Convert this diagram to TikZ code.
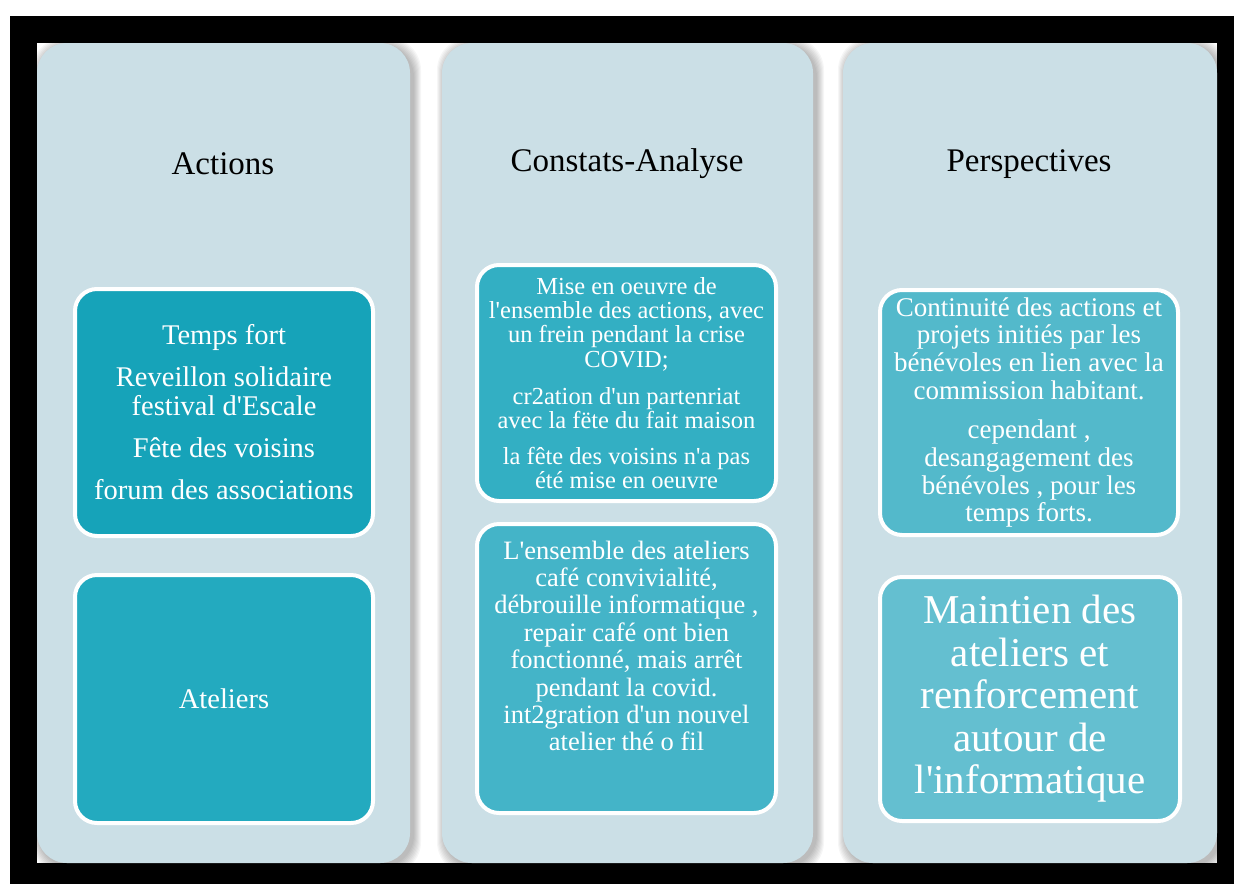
\documentclass[tikz,border=0pt]{standalone}
\usepackage{fontspec}
\setmainfont{Liberation Serif}[Ligatures=TeXOff]
\usetikzlibrary{positioning}
\definecolor{panelblue}{RGB}{203,223,230}
\definecolor{tealA}{RGB}{22,163,185}
\definecolor{tealB}{RGB}{35,170,191}
\definecolor{tealC}{RGB}{51,175,195}
\definecolor{tealD}{RGB}{68,180,200}
\definecolor{tealE}{RGB}{83,185,203}
\definecolor{tealF}{RGB}{100,191,208}
\tikzset{%
	column panel/.style={
		fill=panelblue,
		rounded corners=30pt
	},
	panel title/.style={
		font=\fontsize{33}{36}\selectfont,
		text=black
	},
	item box/.style={
		draw=white,
		line width=4pt,
		rounded corners=22pt
	},
	item text/.style={
		align=center,
		text=white,
		inner sep=0pt
	},
}

\begin{document}
\begin{tikzpicture}[x=1pt, y=-1pt]
			\useasboundingbox (0,0) rectangle (1234,884);
			
			% Draw the page and the black frame
			\fill[white] (0,0) rectangle (1234,884);
			\fill[black] (10,16) rectangle (1234,884);
			\fill[white] (37,43) rectangle (1217,863);
			
			% Soft shadows behind the columns
			\foreach \xa/\xb in {37/410, 442/813, 843/1217}
				\foreach \k in {1,...,8}
					\fill[black, opacity=0.035, rounded corners=32pt] (\xa-\k+3,43-\k+3) rectangle (\xb+\k+3,863+\k+3);
			
			% Draw the three columns
			\fill[column panel] (37,43) rectangle (410,863);
			\fill[column panel] (442,43) rectangle (813,863);
			\fill[column panel] (843,43) rectangle (1217,863);
			
			% Column titles
			\node[panel title] (actions) at (223,164) {Actions};
			\node[panel title] (constats) at (627,164) {Constats-Analyse};
			\node[panel title] (perspectives) at (1029,164) {Perspectives};
			
			% Actions column
			\node[item box, fill=tealA, minimum width=298pt, minimum height=247pt] (temps box) at (224,412.5) {};
			\node[item text, font=\fontsize{28.5}{29}\selectfont] (temps text) at (temps box.center) {Temps fort\\[13pt] Reveillon solidaire\\ festival d'Escale\\[13pt] Fête des voisins\\[13pt] forum des associations};
			\node[item box, fill=tealB, minimum width=298pt, minimum height=248pt] (ateliers box) at (224,699) {};
			\node[item text, font=\fontsize{28.5}{29}\selectfont] (ateliers text) at (ateliers box.center) {Ateliers};
			
			% Constats-Analyse column
			\node[item box, fill=tealC, minimum width=299pt, minimum height=236pt] (mise box) at (626.5,383) {};
			\node[item text, font=\fontsize{24.5}{24.3}\selectfont] (mise text) at (mise box.center) {Mise en oeuvre de\\ l'ensemble des actions, avec\\ un frein pendant la crise\\ COVID;\\[13pt] cr2ation d'un partenriat\\ avec la fëte du fait maison\\[11pt] la fête des voisins n'a pas\\ été mise en oeuvre};
			\node[item box, fill=tealD, minimum width=299pt, minimum height=289pt] (ensemble box) at (626.5,668.5) {};
			\node[item text, font=\fontsize{26.5}{27.4}\selectfont] (ensemble text) at (626.5,646) {L'ensemble des ateliers\\ café convivialité,\\ débrouille informatique ,\\ repair café ont bien\\ fonctionné, mais arrêt\\ pendant la covid.\\ int2gration d'un nouvel\\ atelier thé o fil};
			
			% Perspectives column
			\node[item box, fill=tealE, minimum width=298pt, minimum height=245pt] (continuite box) at (1029,412.5) {};
			\node[item text, font=\fontsize{27}{27.7}\selectfont] (continuite text) at (continuite box.center) {Continuité des actions et\\ projets initiés par les\\ bénévoles en lien avec la\\ commission habitant.\\[12pt] cependant ,\\ desangagement des\\ bénévoles , pour les\\ temps forts.};
			\node[item box, fill=tealF, minimum width=300pt, minimum height=244pt] (maintien box) at (1030,699) {};
			\node[item text, font=\fontsize{41}{42.5}\selectfont] (maintien text) at (maintien box.center) {Maintien des\\ ateliers et\\ renforcement\\ autour de\\ l'informatique};
			
		\end{tikzpicture}
\end{document}
